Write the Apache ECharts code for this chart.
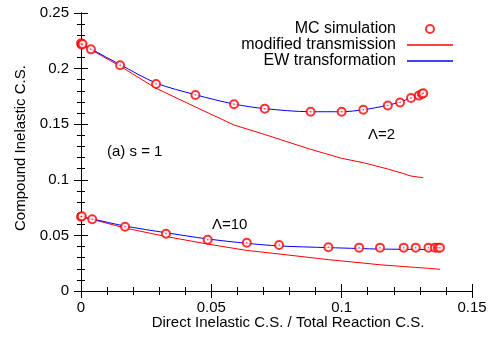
<!DOCTYPE html>
<html>
<head>
<meta charset="utf-8">
<script src="https://cdn.jsdelivr.net/npm/echarts@6/dist/echarts.min.js"></script>
<style>
  html, body { margin: 0; padding: 0; background: #fff; }
  #main { width: 491px; height: 339px; }
</style>
</head>
<body>
<div id="main"></div>
<script>
// s = 1, Lambda = 2 (upper set)
var mcUpX = [0, 0.0003, 0.0006, 0.0038, 0.0150, 0.0288, 0.0439, 0.0587, 0.0705, 0.0881, 0.1000, 0.1083, 0.1177, 0.1224, 0.1266, 0.1296, 0.1308, 0.1313];
var mcUpY = [0.2227, 0.2215, 0.2222, 0.2173, 0.2030, 0.1862, 0.1763, 0.1679, 0.1640, 0.1612, 0.1612, 0.1630, 0.1668, 0.1695, 0.1735, 0.1757, 0.1772, 0.1778];
var lineUpX = [0, 0.0038, 0.0150, 0.0288, 0.0439, 0.0587, 0.0705, 0.0881, 0.1000, 0.1083, 0.1177, 0.1224, 0.1266, 0.1296, 0.1308, 0.1313];
var ewUpY = [0.2232, 0.2178, 0.2036, 0.1870, 0.1765, 0.1681, 0.1640, 0.1612, 0.1612, 0.1630, 0.1670, 0.1700, 0.1735, 0.1760, 0.1772, 0.1778];
var modUpY = [0.2227, 0.2170, 0.2022, 0.1823, 0.1655, 0.1493, 0.1407, 0.1274, 0.1193, 0.1154, 0.1097, 0.1065, 0.1034, 0.1024, 0.1021, 0.1019];

// Lambda = 10 (lower set)
var mcLoX = [0, 0.0003, 0.0043, 0.0169, 0.0326, 0.0486, 0.0636, 0.0760, 0.0949, 0.1067, 0.1147, 0.1238, 0.1284, 0.1333, 0.1358, 0.1369, 0.1377];
var mcLoY = [0.0668, 0.0672, 0.0645, 0.0578, 0.0515, 0.0461, 0.0434, 0.0414, 0.0393, 0.0390, 0.0390, 0.0390, 0.0390, 0.0390, 0.0390, 0.0390, 0.0390];
var lineLoX = [0, 0.0043, 0.0169, 0.0326, 0.0486, 0.0636, 0.0760, 0.0949, 0.1067, 0.1147, 0.1238, 0.1284, 0.1333, 0.1358, 0.1377];
var ewLoY = [0.0668, 0.0648, 0.0584, 0.0524, 0.0468, 0.0429, 0.0405, 0.0390, 0.0382, 0.0377, 0.0375, 0.0374, 0.0373, 0.0373, 0.0372];
var modLoY = [0.0668, 0.0645, 0.0566, 0.0490, 0.0422, 0.0365, 0.0333, 0.0282, 0.0255, 0.0236, 0.0220, 0.0212, 0.0204, 0.0199, 0.0195];

var seriesNames = ['MC simulation', 'modified transmission', 'EW transformation'];

function pairs(xs, ys) {
    return xs.map(function (x, i) { return [x, ys[i]]; });
}

var FONT = '"Liberation Sans", Arial, sans-serif';
var LINE_ICON = 'path://M0,0H46V1.4H0Z';
var chart = echarts.init(document.getElementById('main'));

function axisCommon(extra) {
    var a = {
        type: 'value',
        axisLine: { show: true, lineStyle: { color: '#000', width: 1 } },
        axisTick: { show: true, inside: true, length: 7, lineStyle: { color: '#000' } },
        minorTick: { show: true, splitNumber: 5, length: 4, lineStyle: { color: '#000' } },
        splitLine: { show: false },
        axisLabel: { color: '#000', fontSize: 15, fontFamily: FONT }
    };
    return Object.assign(a, extra);
}

function lineSeries(name, xs, ys, color) {
    return {
        name: name,
        type: 'line',
        data: pairs(xs, ys),
        symbol: 'none',
        smooth: name === seriesNames[2] ? 0.3 : false,
        lineStyle: { color: color, width: 1 },
        itemStyle: { color: color },
        z: 2
    };
}

function mcSeries(xs, ys) {
    return {
        name: seriesNames[0],
        type: 'scatter',
        data: pairs(xs, ys),
        symbol: 'emptyCircle',
        symbolSize: 8,
        itemStyle: { color: '#ff0000', borderColor: '#ff0000', borderWidth: 1 },
        z: 3
    };
}

// small centre dot inside each MC circle
function dotSeries(xs, ys) {
    return {
        name: 'dot',
        type: 'scatter',
        data: pairs(xs, ys),
        symbol: 'circle',
        symbolSize: 1.5,
        itemStyle: { color: '#ff0000' },
        silent: true,
        z: 4
    };
}

chart.setOption({
    animation: false,
    backgroundColor: '#fff',
    grid: { left: 81, right: 19, top: 13, bottom: 48 },
    legend: {
        data: [
            { name: seriesNames[0], icon: 'emptyCircle' },
            { name: seriesNames[1], icon: LINE_ICON },
            { name: seriesNames[2], icon: LINE_ICON }
        ],
        orient: 'vertical',
        align: 'right',
        right: 33,
        top: 16,
        itemWidth: 46,
        itemHeight: 8,
        itemGap: 0,
        symbolKeepAspect: true,
        textStyle: { color: '#000', fontSize: 16, fontFamily: FONT, lineHeight: 14.5, padding: [0, 6, 0, 0] }
    },
    xAxis: [
        axisCommon({ min: 0, max: 0.15, interval: 0.05, position: 'bottom', axisLabel: { color: '#000', fontSize: 15, fontFamily: FONT, margin: 9 } }),
        axisCommon({ min: 0, max: 0.15, interval: 0.05, position: 'top', axisLabel: { show: false } })
    ],
    yAxis: [
        axisCommon({ min: 0, max: 0.25, interval: 0.05, position: 'left', axisLabel: { color: '#000', fontSize: 15, fontFamily: FONT, margin: 12 } }),
        axisCommon({ min: 0, max: 0.25, interval: 0.05, position: 'right', axisLabel: { show: false } })
    ],
    graphic: [
        { type: 'text', left: 107, top: 144, style: { text: '(a) s = 1', font: '15px ' + FONT, fill: '#000' } },
        { type: 'text', left: 368, top: 127, style: { text: 'Λ=2', font: '15px ' + FONT, fill: '#000' } },
        { type: 'text', left: 212, top: 217, style: { text: 'Λ=10', font: '15px ' + FONT, fill: '#000' } },
        { type: 'text', x: 288, y: 323, style: { text: 'Direct Inelastic C.S. / Total Reaction C.S.', font: '15px ' + FONT, fill: '#000', align: 'center', verticalAlign: 'middle' } },
        { type: 'text', x: 21, y: 148, rotation: Math.PI / 2, style: { text: 'Compound Inelastic C.S.', font: '15px ' + FONT, fill: '#000', align: 'center', verticalAlign: 'middle' } }
    ],
    series: [
        lineSeries(seriesNames[1], lineUpX, modUpY, '#ff0000'),
        lineSeries(seriesNames[1], lineLoX, modLoY, '#ff0000'),
        lineSeries(seriesNames[2], lineUpX, ewUpY, '#0000ff'),
        lineSeries(seriesNames[2], lineLoX, ewLoY, '#0000ff'),
        mcSeries(mcUpX, mcUpY),
        mcSeries(mcLoX, mcLoY),
        dotSeries(mcUpX, mcUpY),
        dotSeries(mcLoX, mcLoY)
    ]
});
</script>
</body>
</html>
